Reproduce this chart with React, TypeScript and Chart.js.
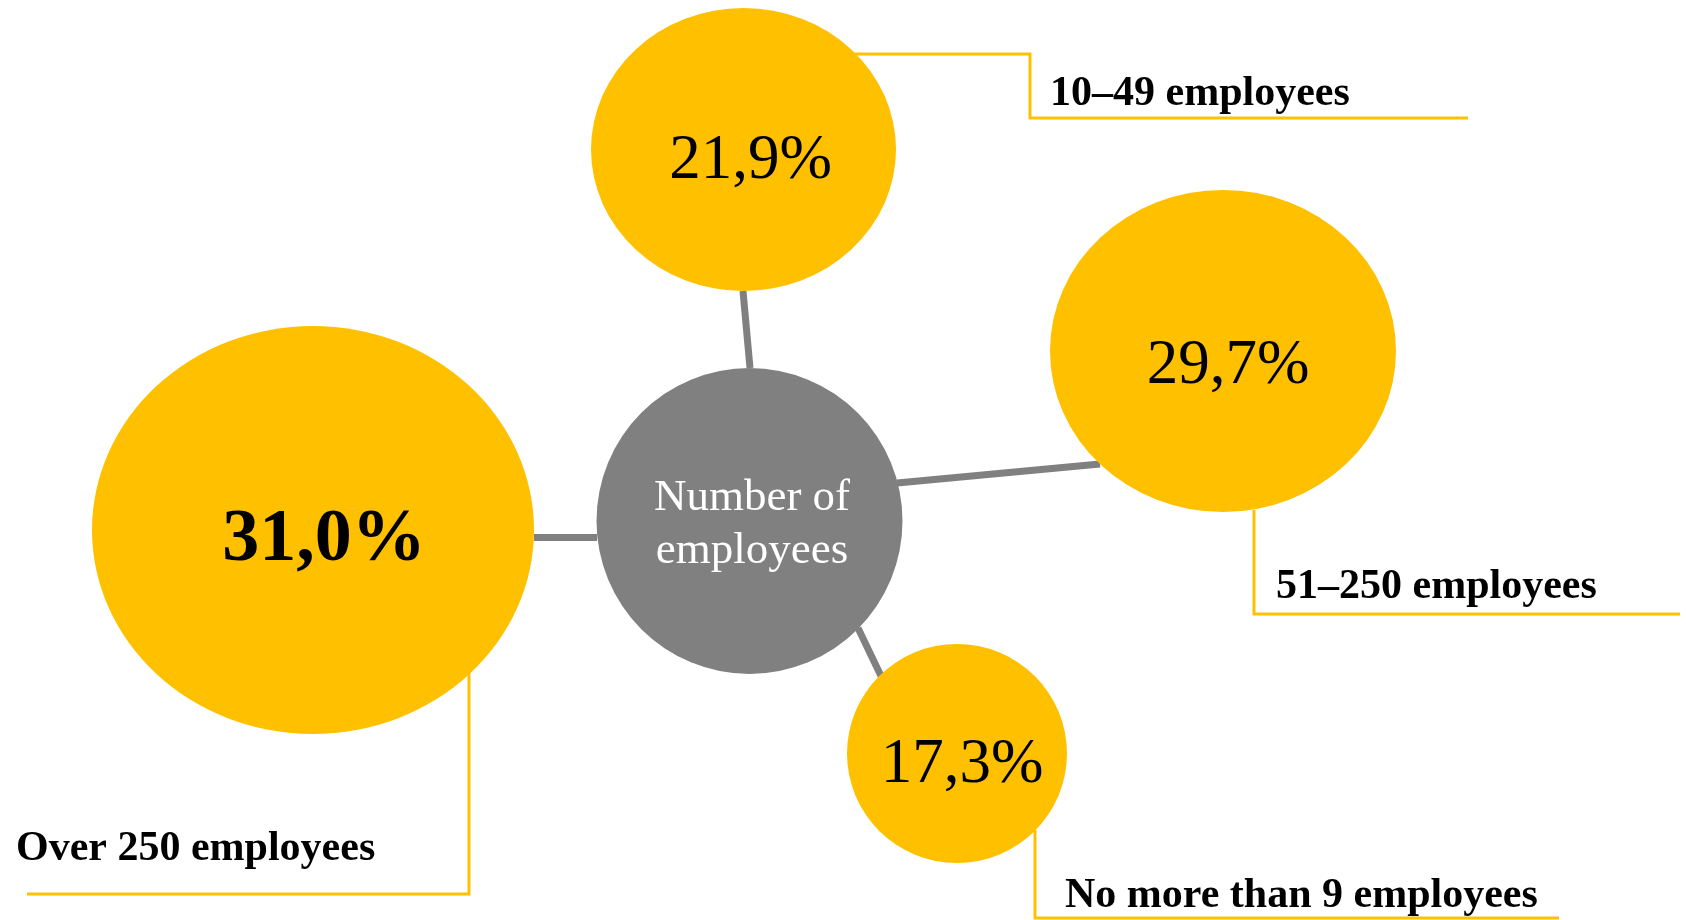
import React, { useEffect, useRef } from 'react';
import { Chart, registerables } from 'chart.js';

Chart.register(...registerables);

// ---- data ----
const categories = ['10–49 employees', '51–250 employees', 'No more than 9 employees', 'Over 250 employees'];
const shares = [21.9, 29.7, 17.3, 31.0];
const centerLabel = ['Number of', 'employees'];

// ---- layout (page pixel coordinate system, used as the scales' value space) ----
const W = 1686;
const H = 920;
const bubbleX = [743.5, 1223, 957, 313];
const bubbleY = [149.5, 351, 753.5, 530];
const bubbleRx = [152.5, 173, 110, 221];
const bubbleRy = [141.5, 161, 109.5, 204];
const hubX = 749.5;
const hubY = 521;
const hubR = 153;
const connectorPaths = [
  [[743, 291], [750, 368]],
  [[897, 483], [1100, 464]],
  [[534, 537.5], [597, 537.5]],
  [[858, 628], [881, 676]],
];
const calloutPaths = [
  [[853, 54], [1030, 54], [1030, 118], [1468, 118]],
  [[1254, 510], [1254, 614], [1680, 614]],
  [[1035, 830], [1035, 918], [1559, 918]],
  [[469, 673], [469, 894], [27, 894]],
];
const labelAnchors = [[1050, 105], [1276, 598], [1065, 907], [16, 860]];
const valueOffsets = [[7, 28.5], [5, 32], [5, 28.5], [11, 30]];

const YELLOW = '#FFC000';
const GRAY = '#808080';
const SERIF = '"Liberation Serif", "Times New Roman", serif';

function ellipseImage(rx: number, ry: number, color: string) {
  const c = document.createElement('canvas');
  c.width = Math.round(rx * 2);
  c.height = Math.round(ry * 2);
  const g = c.getContext('2d')!;
  g.fillStyle = color;
  g.beginPath();
  g.ellipse(c.width / 2, c.height / 2, rx, ry, 0, 0, Math.PI * 2);
  g.fill();
  return c;
}

const fmt = (v: number) => v.toFixed(1).replace('.', ',') + '%';

const textPlugin = {
  id: 'bubbleTexts',
  afterDatasetsDraw(chart: any) {
    const ctx = chart.ctx;
    const xs = chart.scales.x;
    const ys = chart.scales.y;
    const meta = chart.getDatasetMeta(0);
    const maxShare = Math.max(...shares);
    ctx.save();
    ctx.textBaseline = 'alphabetic';
    // values inside bubbles
    shares.forEach((v, i) => {
      const el = meta.data[i];
      const bold = v === maxShare;
      ctx.font = (bold ? 'bold 74px ' : '63px ') + SERIF;
      ctx.fillStyle = '#000000';
      ctx.textAlign = 'center';
      ctx.fillText(fmt(v), el.x + valueOffsets[i][0], el.y + valueOffsets[i][1]);
    });
    // hub label
    const hubMeta = chart.getDatasetMeta(1);
    const hub = hubMeta.data[0];
    ctx.font = '45px ' + SERIF;
    ctx.fillStyle = '#FFFFFF';
    ctx.textAlign = 'center';
    ctx.fillText(centerLabel[0], hub.x + 2.5, hub.y - 11);
    ctx.fillText(centerLabel[1], hub.x + 2.5, hub.y + 42);
    // category labels
    ctx.font = 'bold 42px ' + SERIF;
    ctx.fillStyle = '#000000';
    ctx.textAlign = 'left';
    categories.forEach((c, i) => {
      ctx.fillText(c, xs.getPixelForValue(labelAnchors[i][0]), ys.getPixelForValue(labelAnchors[i][1]));
    });
    ctx.restore();
  },
};

export default function App() {
  const ref = useRef<HTMLCanvasElement | null>(null);
  useEffect(() => {
    if (!ref.current) return;
    const images = shares.map((_, i) => ellipseImage(bubbleRx[i], bubbleRy[i], YELLOW));
    const lineDs = (path: number[][], color: string, width: number) => ({
      type: 'line' as const,
      data: path.map(([x, y]) => ({ x, y })),
      borderColor: color,
      borderWidth: width,
      pointRadius: 0,
      fill: false,
      tension: 0,
      clip: false,
      borderCapStyle: 'butt',
      borderJoinStyle: 'miter',
      order: 2,
    });
    const chart = new Chart(ref.current, {
      type: 'bubble',
      data: {
        datasets: [
          {
            data: shares.map((_, i) => ({ x: bubbleX[i], y: bubbleY[i], r: Math.max(bubbleRx[i], bubbleRy[i]) })),
            pointStyle: images as any,
            backgroundColor: YELLOW,
            borderWidth: 0,
            clip: false,
            order: 0,
          } as any,
          {
            data: [{ x: hubX, y: hubY, r: hubR }],
            pointStyle: 'circle',
            backgroundColor: GRAY,
            borderWidth: 0,
            clip: false,
            order: 1,
          } as any,
          ...connectorPaths.map((p) => lineDs(p, GRAY, 7)),
          ...calloutPaths.map((p) => lineDs(p, YELLOW, 3)),
        ] as any,
      },
      options: {
        animation: false,
        responsive: false,
        events: [],
        layout: { padding: 0, autoPadding: false },
        plugins: { legend: { display: false }, tooltip: { enabled: false }, title: { display: false } },
        scales: {
          x: { type: 'linear', min: 0, max: W, display: false },
          y: { type: 'linear', min: 0, max: H, reverse: true, display: false },
        },
      } as any,
      plugins: [textPlugin],
    });
    return () => chart.destroy();
  }, []);
  return (
    <div style={{ position: 'fixed', left: 0, top: 0, width: W, height: H, background: '#FFFFFF' }}>
      <canvas ref={ref} width={W} height={H} style={{ display: 'block', width: W, height: H }} />
    </div>
  );
}
